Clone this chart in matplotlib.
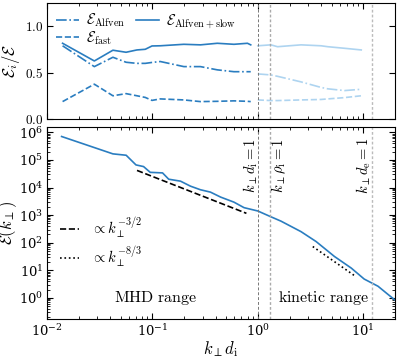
import numpy as np
import matplotlib
matplotlib.use("Agg")
import matplotlib.pyplot as plt
from matplotlib.ticker import FixedLocator, FixedFormatter, LogLocator, NullFormatter

plt.rcParams['mathtext.fontset'] = 'cm'
plt.rcParams['font.family'] = ['DejaVu Serif']
plt.rcParams['axes.formatter.use_mathtext'] = True

# ---- top panel: energy fractions ----
k_frac_mhd = [0.0141, 0.0282, 0.0423, 0.0564, 0.0714, 0.0857, 0.0993, 0.119, 0.199, 0.286, 0.413, 0.594, 0.798, 0.857]
frac_alfslow_mhd = [0.817, 0.626, 0.742, 0.72, 0.745, 0.752, 0.788, 0.79, 0.806, 0.80, 0.817, 0.806, 0.817, 0.80]
frac_alf_mhd = [0.79, 0.565, 0.666, 0.612, 0.60, 0.60, 0.61, 0.62, 0.565, 0.565, 0.53, 0.51, 0.51, 0.51]
frac_fast_mhd = [0.187, 0.375, 0.25, 0.273, 0.25, 0.232, 0.20, 0.216, 0.205, 0.187, 0.19, 0.195, 0.19, 0.187]

k_frac_kin = [1.0, 1.33, 1.54, 2.57, 3.98, 4.61, 6.64, 9.57]
frac_alfslow_kin = [0.79, 0.80, 0.78, 0.80, 0.79, 0.78, 0.763, 0.745]
frac_alf_kin = [0.486, 0.475, 0.46, 0.40, 0.34, 0.325, 0.306, 0.32]
frac_fast_kin = [0.205, 0.198, 0.198, 0.205, 0.21, 0.216, 0.23, 0.25]

# ---- bottom panel: spectrum ----
k_spec = [0.0138, 0.0423, 0.0565, 0.0700, 0.0826, 0.0955, 0.125, 0.143, 0.185, 0.230, 0.286, 0.356,
          0.444, 0.594, 0.741, 1.0, 1.33, 1.66, 2.57, 3.57, 5.33, 7.69, 10.2, 13.8, 17.2, 20.6]
E_spec = [7.08e5, 1.66e5, 1.48e5, 6.6e4, 5.75e4, 3.55e4, 3.39e4, 2.0e4, 1.7e4, 1.12e4, 8.3e3, 6.8e3,
          4.5e3, 2.95e3, 1.86e3, 1.41e3, 870, 603, 251, 110, 31.6, 12.0, 4.8, 2.63, 1.32, 0.76]

# reference power laws
mhd_range_k = [0.0716, 0.78]
mhd_amp = 4.17e4
mhd_slope = -3/2
kin_range_k = [3.32, 8.26]
kin_amp = 72.4
kin_slope = -8/3

k_di, k_rhoi, k_de = 1.0, 1.31, 12.0

dark = '#2a7dc0'
light = '#aed4f0'

fig = plt.figure(figsize=(3.97, 3.56), dpi=100)
ax1 = fig.add_axes([0.118, 0.666, 0.877, 0.325])
ax2 = fig.add_axes([0.118, 0.103, 0.877, 0.541])

ax1.plot(k_frac_mhd, frac_alf_mhd, color=dark, ls='-.', lw=1.2, label=r'$\mathcal{E}_\mathrm{Alfven}$')
ax1.plot(k_frac_mhd, frac_fast_mhd, color=dark, ls='--', lw=1.2, label=r'$\mathcal{E}_\mathrm{fast}$')
ax1.plot(k_frac_mhd, frac_alfslow_mhd, color=dark, ls='-', lw=1.2, label=r'$\mathcal{E}_\mathrm{Alfven+slow}$')
ax1.plot(k_frac_kin, frac_alf_kin, color=light, ls='-.', lw=1.2)
ax1.plot(k_frac_kin, frac_fast_kin, color=light, ls='--', lw=1.2)
ax1.plot(k_frac_kin, frac_alfslow_kin, color=light, ls='-', lw=1.2)

ax2.plot(k_spec, E_spec, color=dark, lw=1.2)
kk = np.array(mhd_range_k)
ax2.plot(kk, mhd_amp * (kk / kk[0]) ** mhd_slope, 'k--', lw=1.2, label=r'$\propto k_\perp^{-3/2}$')
kk = np.array(kin_range_k)
ax2.plot(kk, kin_amp * (kk / kk[0]) ** kin_slope, 'k:', lw=1.2, label=r'$\propto k_\perp^{-8/3}$')

for ax in (ax1, ax2):
    ax.axvline(k_di, color='#777777', ls=(0, (3, 2)), lw=0.7)
    ax.axvline(k_rhoi, color='#aaaaaa', ls=(0, (2, 1.5)), lw=1.0)
    ax.axvline(k_de, color='#bbbbbb', ls=(0, (2, 1.5)), lw=1.0)
    ax.set_xscale('log')
    ax.set_xlim(0.01, 20)
    ax.tick_params(which='both', direction='in', top=True, right=True, labelsize=9.5)
    ax.tick_params(which='major', length=4, pad=2.5)
    ax.tick_params(which='minor', length=2)

ax1.set_ylim(0, 1.25)
ax1.yaxis.set_major_locator(FixedLocator([0.0, 0.5, 1.0]))
ax1.yaxis.set_major_formatter(FixedFormatter([r'$0.0$', r'$0.5$', r'$1.0$']))
ax1.tick_params(labelbottom=False)
ax1.set_ylabel(r'$\mathcal{E}_i/\mathcal{E}$', fontsize=12, labelpad=2)
ax1.legend(loc='upper left', ncol=2, frameon=False, fontsize=10.5, handlelength=1.6,
           borderaxespad=0.2, columnspacing=0.7, handletextpad=0.5, labelspacing=0.0)

ax2.set_yscale('log')
ax2.set_ylim(0.166, 1.6e6)
ax2.yaxis.set_major_locator(LogLocator(base=10, numticks=20))
ax2.yaxis.set_minor_locator(LogLocator(base=10, subs=np.arange(2, 10), numticks=20))
ax2.yaxis.set_minor_formatter(NullFormatter())
ax2.set_ylabel(r'$\mathcal{E}(k_\perp)$', fontsize=12, labelpad=0)
ax2.set_xlabel(r'$k_\perp d_\mathrm{i}$', fontsize=12, labelpad=0)
ax2.legend(loc='center left', bbox_to_anchor=(0.0, 0.40), frameon=False, fontsize=10.5,
           handlelength=1.3, labelspacing=0.3)

ax2.text(0.107, 1.0, r'$\mathrm{MHD\ range}$', fontsize=11.5, ha='center', va='center')
ax2.text(4.16, 1.0, r'$\mathrm{kinetic\ range}$', fontsize=11.5, ha='center', va='center')
ax2.text(0.86, 6.3e4, r'$k_\perp d_\mathrm{i} = 1$', fontsize=10.5, rotation=90, ha='center', va='center')
ax2.text(1.58, 6.3e4, r'$k_\perp \rho_\mathrm{i} = 1$', fontsize=10.5, rotation=90, ha='center', va='center')
ax2.text(10.2, 6.3e4, r'$k_\perp d_\mathrm{e} = 1$', fontsize=10.5, rotation=90, ha='center', va='center')

fig.savefig('out.png', dpi=100)
